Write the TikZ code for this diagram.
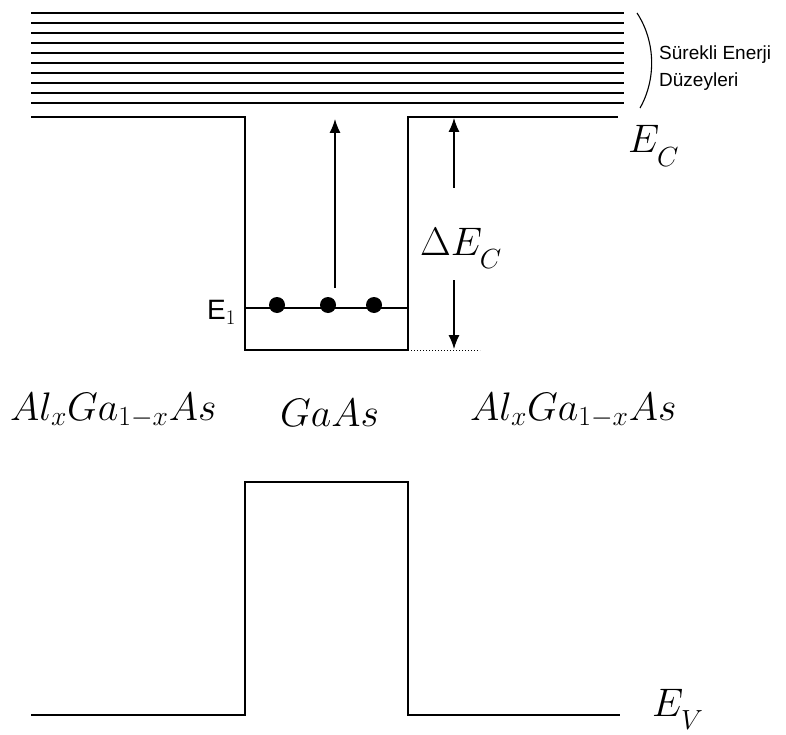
\documentclass[tikz,border=0pt]{standalone}
\usepackage{graphicx}
\usepackage{fontspec}
\newfontfamily\arialfont{Liberation Sans}
\usetikzlibrary{arrows.meta,positioning}
\newcommand{\bigmath}[1]{\scalebox{1.6}{\Huge$#1$}}
\newcommand{\ssub}[1]{_{\scriptscriptstyle #1}}
\tikzset{
  band/.style={
    line width=1.8pt
  },
  level/.style={
    line width=2.8pt
  },
  electron/.style={
    inner sep = 0pt,
    minimum size = 16pt,
    shape = circle,
    fill
  },
  arr/.style={
    line width=1.2pt,
    -{Latex[length=14pt,width=11pt]}
  },
  material/.style={
    anchor = base west,
    inner sep = 0pt
  },
  note/.style={
    anchor = west,
    inner sep = 0pt,
    font = \arialfont\fontsize{19}{22}\selectfont
  }
}

\begin{document}
\begin{tikzpicture}[x=1pt,y=-1pt]
    \useasboundingbox (0,0) rectangle (786,735);
    % continuum levels
    \foreach \y in {13,23,...,103}{
      \draw[band] (31,\y) -- (624,\y);
    }
    \draw[line width=1.1pt] (637,13) .. controls (656,42) and (656,80) .. (640,108);
    \node[note] (sur) at (659,55) {Sürekli Enerji};
    \node[note] (duz) at (659,82) {Düzeyleri};
    % conduction band
    \coordinate (cl) at (31,117);
    \coordinate (wl) at (245,117);
    \coordinate (wr) at (408,117);
    \coordinate (cr) at (618,117);
    \coordinate (bl) at (245,350);
    \coordinate (br) at (408,350);
    \draw[band] (cl) -- (wl) -- (bl) -- (br) -- (wr) -- (cr);
    \node[material] (ec) at (628,153) {\bigmath{E_{_C}}};
    % bound state
    \coordinate (e1l) at (245,308);
    \coordinate (e1r) at (408,308);
    \draw[level] (e1l) -- (e1r);
    \foreach \x/\n in {277/1,328/2,374/3}{
      \node[electron] (d\n) at (\x,305) {};
    }
    \node[anchor=east, inner sep=0pt, font=\arialfont\fontsize{28}{30}\selectfont] (e1) at (236,312) {E$_1$};
    \coordinate (exa) at (335,288);
    \coordinate (exb) at (335,119);
    \draw[arr] (exa) -- (exb);
    % offset
    \coordinate (dot) at (480,350);
    \draw[line width=1pt, dotted] (br) -- (dot);
    \node[material] (dec) at (420,255) {\bigmath{\Delta E_{_C}}};
    \coordinate (upa) at (454,188);
    \coordinate (upb) at (454,118);
    \coordinate (dna) at (454,280);
    \coordinate (dnb) at (454,349);
    \draw[arr] (upa) -- (upb);
    \draw[arr] (dna) -- (dnb);
    % layers
    \node[material] (lft) at (10,420) {\bigmath{Al\ssub{x}Ga\ssub{1-x}As}};
    \node[material] (mid) at (280,426) {\bigmath{GaAs}};
    \node[material] (rgt) at (470,420) {\bigmath{Al\ssub{x}Ga\ssub{1-x}As}};
    % valence band
    \coordinate (vl) at (31,715);
    \coordinate (vbl) at (245,715);
    \coordinate (vtl) at (245,482);
    \coordinate (vtr) at (408,482);
    \coordinate (vbr) at (408,715);
    \coordinate (vr) at (620,715);
    \draw[band] (vl) -- (vbl) -- (vtl) -- (vtr) -- (vbr) -- (vr);
    \node[material] (ev) at (652,716) {\bigmath{E_{_V}}};
\end{tikzpicture}
\end{document}
